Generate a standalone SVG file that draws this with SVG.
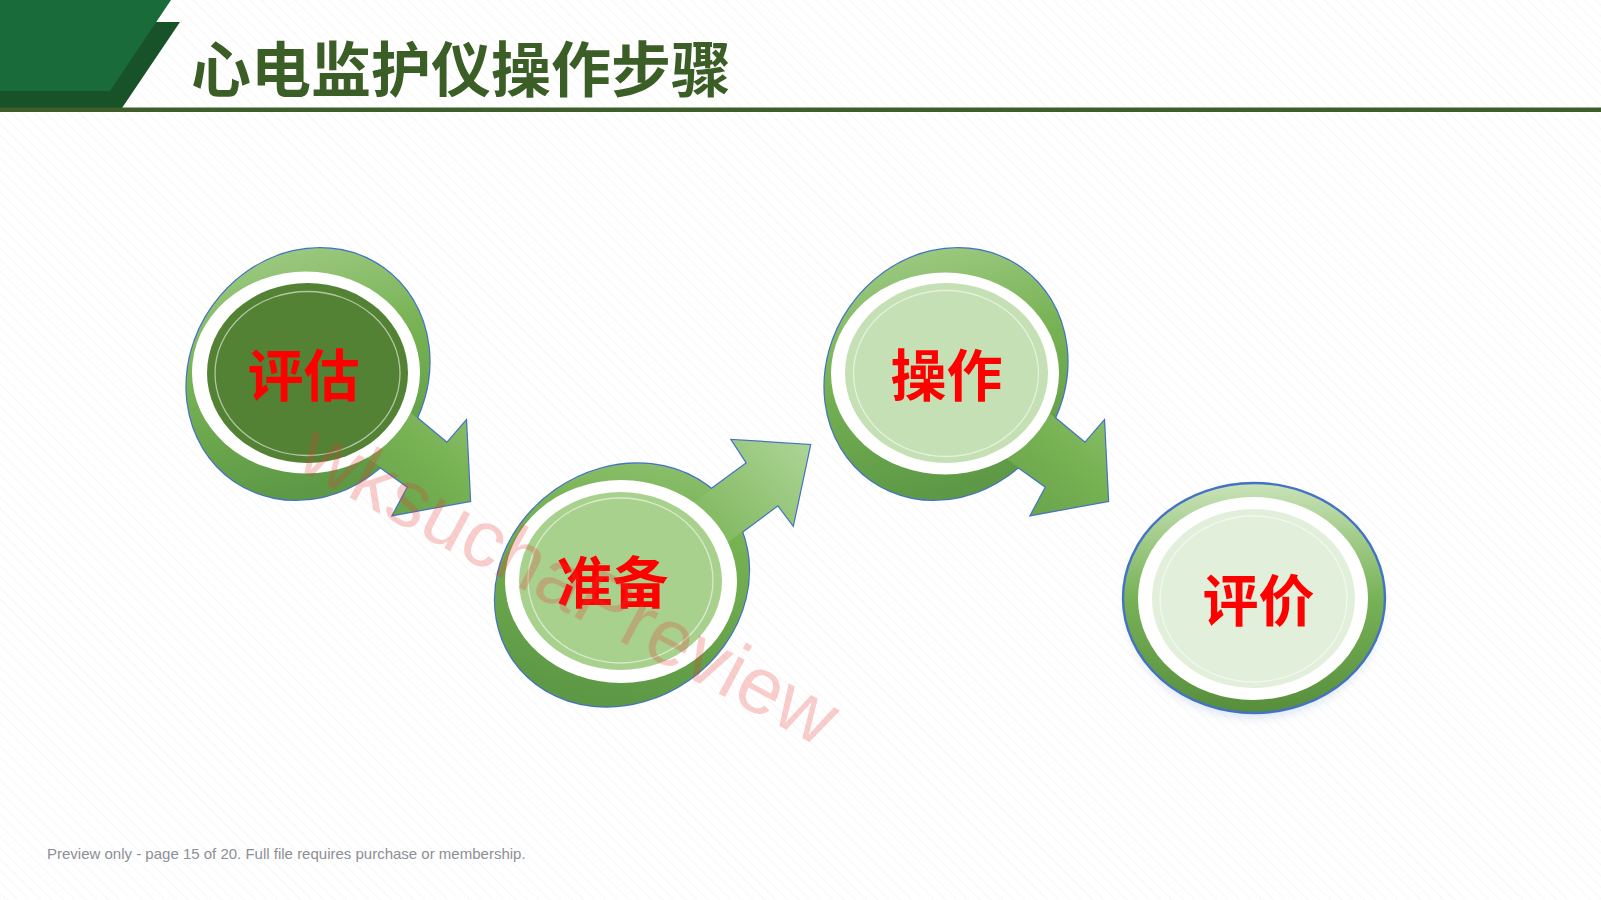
<svg xmlns="http://www.w3.org/2000/svg" xmlns:xlink="http://www.w3.org/1999/xlink" width="1601" height="900" viewBox="0 0 1601 900">
<style>
.edge{stroke:#4472c4;stroke-width:2.4;}
.white{fill:#ffffff;}
.ring{fill:none;stroke:#ffffff;stroke-opacity:0.55;stroke-width:1.3;}
.label{font-family:"Noto Sans CJK SC","Noto Sans CJK JP",sans-serif;font-weight:bold;font-size:56px;fill:#ff0000;text-anchor:middle;}
.title{font-family:"Noto Sans CJK SC","Noto Sans CJK JP",sans-serif;font-weight:bold;font-size:60px;fill:#3b5e27;}
.footer{font-family:"Liberation Sans",Arial,sans-serif;font-size:15px;fill:#8c8f96;}
.wm{font-family:"Liberation Sans",Arial,sans-serif;font-size:80px;fill:#e53935;fill-opacity:0.25;}
</style>
<defs>
<pattern id="bg" patternUnits="userSpaceOnUse" width="8" height="8" patternTransform="rotate(-45)">
<line x1="0" y1="0" x2="0" y2="8" stroke="#f1f1f1" stroke-width="1.2"/>
</pattern>
<linearGradient id="g1" gradientUnits="userSpaceOnUse" x1="430" y1="250" x2="230" y2="480">
<stop offset="0" stop-color="#acd394"/><stop offset="0.5" stop-color="#77b253"/><stop offset="1" stop-color="#5a9644"/>
</linearGradient>
<linearGradient id="g3" gradientUnits="userSpaceOnUse" x1="1068" y1="250" x2="868" y2="480">
<stop offset="0" stop-color="#acd394"/><stop offset="0.5" stop-color="#77b253"/><stop offset="1" stop-color="#5a9644"/>
</linearGradient>
<linearGradient id="g2" gradientUnits="userSpaceOnUse" x1="805" y1="440" x2="545" y2="700">
<stop offset="0" stop-color="#add496"/><stop offset="0.45" stop-color="#77b253"/><stop offset="1" stop-color="#5a9644"/>
</linearGradient>
<linearGradient id="g4" gradientUnits="userSpaceOnUse" x1="0" y1="483" x2="0" y2="713">
<stop offset="0" stop-color="#c9e3b8"/><stop offset="0.5" stop-color="#78b257"/><stop offset="1" stop-color="#578e3d"/>
</linearGradient>
<filter id="blur" x="-20%" y="-20%" width="140%" height="140%"><feGaussianBlur stdDeviation="5"/></filter>
<ellipse id="o1" cx="308" cy="374" rx="130" ry="117" transform="rotate(-55 308 374)"/>
<polygon id="a1" points="394,399 447,443 466,421 470,501 393,515 408,487 355,449"/>
<ellipse id="o2" cx="622" cy="585" rx="132" ry="116" transform="rotate(-35 622 585)"/>
<polygon id="a2" points="687,507 747,463 732,440 810,445 793,525 778,505 719,549"/>
<ellipse id="o3" cx="946" cy="374" rx="130" ry="117" transform="rotate(-55 946 374)"/>
<polygon id="a3" points="1032,399 1085,443 1104,421 1108,501 1031,515 1046,487 993,449"/>
</defs>

<rect x="0" y="0" width="1601" height="900" fill="#ffffff"/>
<rect x="0" y="0" width="1601" height="900" fill="url(#bg)"/>

<g id="header">
<polygon points="0,22 180,22 122,108 0,108" fill="#175228"/>
<polygon points="0,0 171,0 110,91 0,91" fill="#1a6b3a"/>
<rect x="0" y="107.5" width="1601" height="4.5" fill="#3f5f2a"/>
<text class="title" x="191" y="92">心电监护仪操作步骤</text>
</g>

<g id="node-pinggu">
<use xlink:href="#o1" class="edge" fill="url(#g1)"/>
<use xlink:href="#a1" class="edge" fill="url(#g1)"/>
<use xlink:href="#o1" fill="url(#g1)"/>
<use xlink:href="#a1" fill="url(#g1)"/>
<ellipse class="white" cx="306" cy="372.5" rx="114" ry="101"/>
<ellipse cx="307.5" cy="373" rx="100.5" ry="90" fill="#548235"/>
<ellipse class="ring" cx="307.5" cy="373.5" rx="92.5" ry="82" stroke="#c5e0b4"/>
<text class="label" x="303.5" y="396">评估</text>
</g>

<g id="node-zhunbei">
<use xlink:href="#o2" class="edge" fill="url(#g2)"/>
<use xlink:href="#a2" class="edge" fill="url(#g2)"/>
<use xlink:href="#o2" fill="url(#g2)"/>
<use xlink:href="#a2" fill="url(#g2)"/>
<ellipse class="white" cx="621" cy="581.5" rx="116" ry="101.5"/>
<ellipse cx="620.5" cy="581" rx="101.5" ry="89" fill="#a9d18e"/>
<ellipse class="ring" cx="620.5" cy="580.5" rx="92.5" ry="82.5"/>
<text class="label" x="612.5" y="603">准备</text>
</g>

<g id="node-caozuo">
<use xlink:href="#o3" class="edge" fill="url(#g3)"/>
<use xlink:href="#a3" class="edge" fill="url(#g3)"/>
<use xlink:href="#o3" fill="url(#g3)"/>
<use xlink:href="#a3" fill="url(#g3)"/>
<ellipse class="white" cx="945" cy="373.5" rx="114" ry="101"/>
<ellipse cx="946.5" cy="373" rx="101.5" ry="90" fill="#c5e0b4"/>
<ellipse class="ring" cx="946" cy="373.5" rx="92.5" ry="83"/>
<text class="label" x="946.5" y="396">操作</text>
</g>

<g id="node-pingjia">
<ellipse cx="1254" cy="606" rx="128" ry="112" fill="#b4c7e7" fill-opacity="0.45" filter="url(#blur)"/>
<ellipse class="edge" cx="1254" cy="598" rx="131" ry="115" fill="url(#g4)"/>
<ellipse class="white" cx="1253" cy="598.5" rx="115" ry="101.5"/>
<ellipse cx="1253.5" cy="598.5" rx="101.5" ry="89.5" fill="#e2efda"/>
<ellipse class="ring" cx="1253.5" cy="599" rx="93.5" ry="83"/>
<text class="label" x="1258.5" y="621">评价</text>
</g>

<g id="connectors"></g>

<text class="wm" x="294" y="468" transform="rotate(28 294 468)">wksuchaPreview</text>

<text class="footer" x="47" y="859">Preview only - page 15 of 20. Full file requires purchase or membership.</text>
</svg>
